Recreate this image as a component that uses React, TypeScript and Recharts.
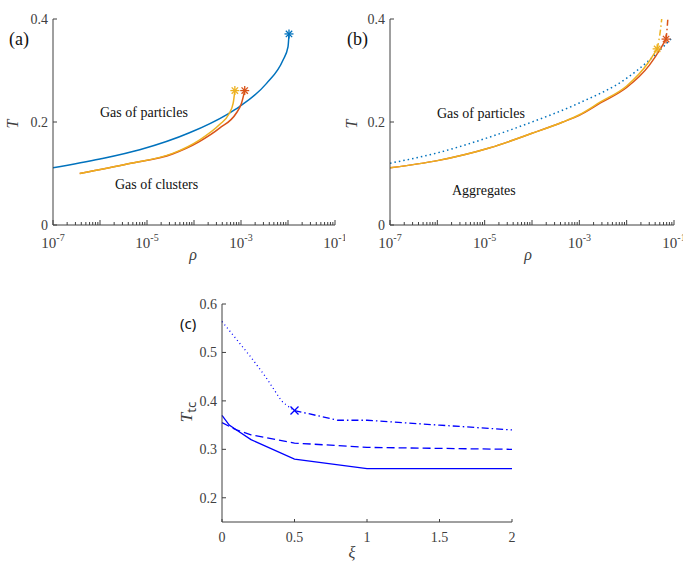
import { ComposedChart, Line, XAxis, YAxis } from "recharts";

// ---- panel (a): rho vs T ----
const aBlueRho = [1e-7, 1e-6, 7e-6, 8e-5, 4.9e-4, 9.3e-4, 3.5e-3, 7.8e-3, 0.01, 0.0105];
const aBlueT = [0.111, 0.128, 0.146, 0.179, 0.214, 0.23, 0.275, 0.32, 0.346, 0.371];
const aYellowRho = [3.7e-7, 4e-6, 3.5e-5, 1.3e-4, 3.5e-4, 5.5e-4, 6.8e-4, 7.4e-4];
const aYellowT = [0.1, 0.119, 0.139, 0.165, 0.195, 0.215, 0.236, 0.261];
const aRedRho = [3.7e-7, 4e-6, 3.5e-5, 1.3e-4, 3.5e-4, 7.9e-4, 1.02e-3, 1.2e-3];
const aRedT = [0.1, 0.119, 0.138, 0.162, 0.188, 0.217, 0.236, 0.261];

// ---- panel (b) ----
const bBlueRho = [1e-7, 1e-6, 1.3e-5, 1e-4, 1e-3, 1e-2, 0.03, 0.09];
const bBlueT = [0.12, 0.14, 0.171, 0.2, 0.237, 0.285, 0.32, 0.363];
const bYellowRho = [1e-7, 1e-6, 1.3e-5, 1e-4, 4.5e-4, 1e-3, 2.8e-3, 1e-2, 2.8e-2, 0.044];
const bYellowT = [0.111, 0.125, 0.15, 0.178, 0.2, 0.214, 0.239, 0.27, 0.314, 0.342];
const bRedRho = [1e-7, 1e-6, 1.3e-5, 1e-4, 4.5e-4, 1e-3, 2.8e-3, 1e-2, 3e-2, 0.05, 0.068];
const bRedT = [0.111, 0.125, 0.15, 0.178, 0.2, 0.213, 0.237, 0.267, 0.31, 0.34, 0.361];
const bYellowUpRho = [0.044, 0.052, 0.055];
const bYellowUpT = [0.342, 0.38, 0.4];
const bRedUpRho = [0.068, 0.072, 0.074];
const bRedUpT = [0.361, 0.385, 0.4];

// ---- panel (c): xi vs T_tc ----
const cSolidXi = [0, 0.05, 0.1, 0.2, 0.5, 1, 2];
const cSolidT = [0.37, 0.35, 0.34, 0.32, 0.28, 0.26, 0.26];
const cDashXi = [0, 0.1, 0.2, 0.5, 1, 2];
const cDashT = [0.355, 0.34, 0.33, 0.313, 0.304, 0.3];
const cDotXi = [0, 0.2, 0.3, 0.41, 0.45, 0.5];
const cDotT = [0.564, 0.49, 0.45, 0.4, 0.39, 0.38];
const cDashDotXi = [0.5, 0.8, 1, 1.5, 2];
const cDashDotT = [0.38, 0.36, 0.36, 0.35, 0.34];

const rhoTicks = [0.1];
for (let e = -7; e <= -2; e++) for (let m = 1; m <= 9; m++) rhoTicks.push(m * Math.pow(10, e));
const tTicks = [0, 0.2, 0.4];
const xiTicks = [0, 0.5, 1, 1.5, 2];
const tcTicks = [0.2, 0.3, 0.4, 0.5, 0.6];

const BLUE = "#0072BD";
const RED = "#D95319";
const YELLOW = "#EDB120";
const AXIS = "#404040";
const SERIF = "'Liberation Serif', 'DejaVu Serif', serif";
const SANS = "'Noto Sans', 'DejaVu Sans', sans-serif";

const zip = (xs: number[], ys: number[]) => xs.map((x, i) => ({ x, y: ys[i] }));

function Star({ cx, cy, color }: any) {
  const r = 4.5;
  const lines = [0, 45, 90, 135].map((a) => {
    const rad = (a * Math.PI) / 180;
    const dx = Math.cos(rad) * r;
    const dy = Math.sin(rad) * r;
    return <line key={a} x1={cx - dx} y1={cy - dy} x2={cx + dx} y2={cy + dy} stroke={color} strokeWidth={1.3} />;
  });
  return <g>{lines}</g>;
}

const endStar = (color: string, n: number) => (props: any) =>
  props.index === n - 1 ? <Star key={props.index} cx={props.cx} cy={props.cy} color={color} /> : <g key={props.index} />;

const startCross = (props: any) => {
  if (props.index !== 0) return <g key={props.index} />;
  const { cx, cy } = props;
  return (
    <g key={0}>
      <line x1={cx - 4} y1={cy - 4} x2={cx + 4} y2={cy + 4} stroke="#0000FF" strokeWidth={1.3} />
      <line x1={cx - 4} y1={cy + 4} x2={cx + 4} y2={cy - 4} stroke="#0000FF" strokeWidth={1.3} />
    </g>
  );
};

function LogTick({ x, y, payload }: any) {
  const v = payload.value;
  const lg = Math.log10(v);
  const e = Math.round(lg);
  const decade = Math.abs(lg - e) < 1e-6;
  const labeled = decade && Math.abs(e % 2) === 1;
  return (
    <g>
      <line x1={x} y1={y} x2={x} y2={y - (decade ? 5 : 3)} stroke={AXIS} strokeWidth={1} />
      {labeled && (
        <text x={x} y={y + 23} textAnchor="middle" style={{ fontFamily: SERIF }} fontSize={15} fill={AXIS}>
          10
          <tspan dy={-7} fontSize={10}>{`-${-e}`}</tspan>
        </text>
      )}
    </g>
  );
}

function LeftTick({ x, y, payload }: any) {
  return (
    <g>
      <line x1={x} y1={y} x2={x + 4} y2={y} stroke={AXIS} strokeWidth={1} />
      <text x={x - 5} y={y + 5} textAnchor="end" style={{ fontFamily: SERIF }} fontSize={14} fill={AXIS}>
        {payload.value}
      </text>
    </g>
  );
}

function BottomTick({ x, y, payload }: any) {
  return (
    <g>
      <line x1={x} y1={y} x2={x} y2={y - 3} stroke={AXIS} strokeWidth={1} />
      <text x={x} y={y + 20} textAnchor="middle" style={{ fontFamily: SERIF }} fontSize={14} fill={AXIS}>
        {payload.value}
      </text>
    </g>
  );
}

function RhoPanel({ lines, width, marginLeft, marginRight }: any) {
  return (
    <ComposedChart width={width} height={270} margin={{ top: 19, right: marginRight, left: marginLeft, bottom: 15 }}>
      <XAxis
        dataKey="x"
        type="number"
        scale="log"
        domain={[1e-7, 1e-1]}
        allowDataOverflow
        ticks={rhoTicks}
        interval={0}
        tick={<LogTick />}
        tickLine={false}
        tickSize={0}
        tickMargin={0}
        height={30}
        axisLine={{ stroke: AXIS }}
      />
      <YAxis
        dataKey="y"
        type="number"
        domain={[0, 0.4]}
        allowDataOverflow
        ticks={tTicks}
        interval={0}
        tick={<LeftTick />}
        tickLine={false}
        tickSize={0}
        tickMargin={0}
        width={40}
        axisLine={{ stroke: AXIS }}
      />
      {lines}
    </ComposedChart>
  );
}

export default function App() {
  const aLines = [
    <Line key="ab" data={zip(aBlueRho, aBlueT)} dataKey="y" type="monotone" stroke={BLUE} strokeWidth={1.5} dot={endStar(BLUE, aBlueRho.length)} isAnimationActive={false} />,
    <Line key="ar" data={zip(aRedRho, aRedT)} dataKey="y" type="monotone" stroke={RED} strokeWidth={1.5} dot={endStar(RED, aRedRho.length)} isAnimationActive={false} />,
    <Line key="ay" data={zip(aYellowRho, aYellowT)} dataKey="y" type="monotone" stroke={YELLOW} strokeWidth={1.5} dot={endStar(YELLOW, aYellowRho.length)} isAnimationActive={false} />,
  ];
  const bLines = [
    <Line key="bb" data={zip(bBlueRho, bBlueT)} dataKey="y" type="monotone" stroke={BLUE} strokeWidth={1.5} strokeDasharray="1.5 3" dot={false} isAnimationActive={false} />,
    <Line key="br" data={zip(bRedRho, bRedT)} dataKey="y" type="monotone" stroke={RED} strokeWidth={1.5} dot={endStar(RED, bRedRho.length)} isAnimationActive={false} />,
    <Line key="by" data={zip(bYellowRho, bYellowT)} dataKey="y" type="monotone" stroke={YELLOW} strokeWidth={1.5} dot={endStar(YELLOW, bYellowRho.length)} isAnimationActive={false} />,
    <Line key="bru" data={zip(bRedUpRho, bRedUpT)} dataKey="y" type="monotone" stroke={RED} strokeWidth={1.5} strokeDasharray="6 3 1.5 3" dot={false} isAnimationActive={false} />,
    <Line key="byu" data={zip(bYellowUpRho, bYellowUpT)} dataKey="y" type="monotone" stroke={YELLOW} strokeWidth={1.5} strokeDasharray="6 3 1.5 3" dot={false} isAnimationActive={false} />,
  ];

  return (
    <div style={{ position: "absolute", left: 0, top: 0, width: 683, height: 563, background: "#fff" }}>
      <div style={{ position: "absolute", left: 0, top: 0 }}>
        <RhoPanel lines={aLines} width={345} marginLeft={13} marginRight={10} />
      </div>
      <div style={{ position: "absolute", left: 345, top: 0 }}>
        <RhoPanel lines={bLines} width={338} marginLeft={5} marginRight={9} />
      </div>
      <div style={{ position: "absolute", left: 160, top: 290 }}>
        <ComposedChart width={370} height={273} margin={{ top: 14, right: 18, left: 22, bottom: 11 }}>
          <XAxis
            dataKey="x"
            type="number"
            domain={[0, 2]}
            ticks={xiTicks}
            interval={0}
            tick={<BottomTick />}
            tickLine={false}
            tickSize={0}
            tickMargin={0}
            height={30}
            axisLine={{ stroke: AXIS }}
          />
          <YAxis
            dataKey="y"
            type="number"
            domain={[0.15, 0.6]}
            allowDataOverflow
            ticks={tcTicks}
            interval={0}
            tick={<LeftTick />}
            tickLine={false}
            tickSize={0}
            tickMargin={0}
            width={40}
            axisLine={{ stroke: AXIS }}
          />
          <Line data={zip(cSolidXi, cSolidT)} dataKey="y" type="linear" stroke="#0000FF" strokeWidth={1.3} dot={false} isAnimationActive={false} />
          <Line data={zip(cDashXi, cDashT)} dataKey="y" type="linear" stroke="#0000FF" strokeWidth={1.3} strokeDasharray="8 4" dot={false} isAnimationActive={false} />
          <Line data={zip(cDotXi, cDotT)} dataKey="y" type="linear" stroke="#0000FF" strokeWidth={1.3} strokeDasharray="1 3" dot={false} isAnimationActive={false} />
          <Line data={zip(cDashDotXi, cDashDotT)} dataKey="y" type="linear" stroke="#0000FF" strokeWidth={1.3} strokeDasharray="7 3 1.5 3" dot={startCross} isAnimationActive={false} />
        </ComposedChart>
      </div>

      <svg width={683} height={563} style={{ position: "absolute", left: 0, top: 0, pointerEvents: "none" }}>
        <g style={{ fontFamily: SERIF }} fill="#111">
          <text x={9} y={45} fontSize={18}>(a)</text>
          <text x={347} y={45} fontSize={18}>(b)</text>
          <text x={100} y={117} fontSize={14}>Gas of particles</text>
          <text x={115} y={189} fontSize={14}>Gas of clusters</text>
          <text x={437} y={118} fontSize={14}>Gas of particles</text>
          <text x={452} y={195} fontSize={14}>Aggregates</text>
        </g>
        <text x={180} y={329} fontSize={15} style={{ fontFamily: SANS }} fill="#111">(c)</text>
        <g style={{ fontFamily: SERIF }} fill={AXIS}>
          <text x={0} y={0} fontSize={16} fontStyle="italic" textAnchor="middle" transform="translate(18,124) rotate(-90)">T</text>
          <text x={0} y={0} fontSize={16} fontStyle="italic" textAnchor="middle" transform="translate(357,124) rotate(-90)">T</text>
          <text x={193} y={260} fontSize={16} fontStyle="italic" textAnchor="middle">ρ</text>
          <text x={528} y={260} fontSize={16} fontStyle="italic" textAnchor="middle">ρ</text>
          <text x={352} y={558} fontSize={16} fontStyle="italic" textAnchor="middle">ξ</text>
          <text x={0} y={0} fontSize={17} textAnchor="middle" transform="translate(192,412) rotate(-90)">
            <tspan fontStyle="italic">T</tspan>
            <tspan style={{ fontFamily: SANS }} fontSize={13} dy={4}>tc</tspan>
          </text>
        </g>
      </svg>
    </div>
  );
}
